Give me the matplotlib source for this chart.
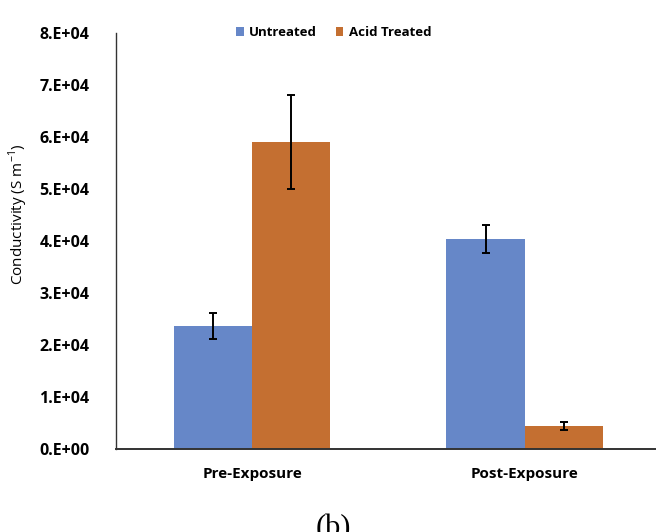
import matplotlib
matplotlib.use("Agg")
import matplotlib.pyplot as plt
import numpy as np

categories = ["Pre-Exposure", "Post-Exposure"]
series = ["Untreated", "Acid Treated"]
untreated = [23700, 40300]
untreated_err = [2500, 2700]
acid = [59000, 4400]
acid_err = [9000, 700]
yticks = [0, 10000, 20000, 30000, 40000, 50000, 60000, 70000, 80000]
ytick_labels = ["0.E+00", "1.E+04", "2.E+04", "3.E+04", "4.E+04",
                "5.E+04", "6.E+04", "7.E+04", "8.E+04"]

blue = "#6687C8"
orange = "#C46F31"
font = "Open Sans"

fig = plt.figure(figsize=(6.56, 5.32), dpi=100)
ax = fig.add_axes([116 / 656, 1 - 449 / 532, 1 - 116 / 656, (449 - 33) / 532])

x = np.arange(len(categories))
w = 0.287
ax.bar(x - w / 2, untreated, w, color=blue, label=series[0],
       yerr=untreated_err, error_kw=dict(ecolor="black", elinewidth=1.4,
                                         capsize=3, capthick=1.4))
ax.bar(x + w / 2, acid, w, color=orange, label=series[1],
       yerr=acid_err, error_kw=dict(ecolor="black", elinewidth=1.4,
                                    capsize=3, capthick=1.4))

ax.set_xlim(-0.5, 1.482)
ax.set_ylim(0, 80000)
ax.set_yticks(yticks)
ax.set_yticklabels(ytick_labels, fontfamily=font, fontweight="bold", fontsize=11.5)
ax.set_xticks(x)
ax.set_xticklabels(categories, fontfamily=font, fontweight="bold", fontsize=11)
ax.tick_params(axis="both", length=0)
ax.tick_params(axis="y", pad=19)
ax.tick_params(axis="x", pad=13)

for s in ["top", "right"]:
    ax.spines[s].set_visible(False)
ax.spines["left"].set_color("#333333")
ax.spines["bottom"].set_color("#333333")
ax.spines["left"].set_linewidth(1.0)
ax.spines["bottom"].set_linewidth(1.4)

ax.set_ylabel("Conductivity (S m$^{\\mathregular{-1}}$)", fontfamily=font,
              fontsize=11)
ax.yaxis.set_label_coords(-86 / 540, (449 - 214) / 416)

leg = ax.legend(loc="upper center", bbox_to_anchor=(0.403, 1.045), ncol=2,
                frameon=False, prop=dict(family=font, weight="bold", size=9.5),
                handlelength=0.6, handleheight=0.6, handletextpad=0.4,
                columnspacing=1.4)

fig.text(333 / 656, 1 - 514 / 532, "(b)", family="Liberation Serif",
         fontsize=22, ha="center", va="top")

fig.savefig("out.png", dpi=100)
